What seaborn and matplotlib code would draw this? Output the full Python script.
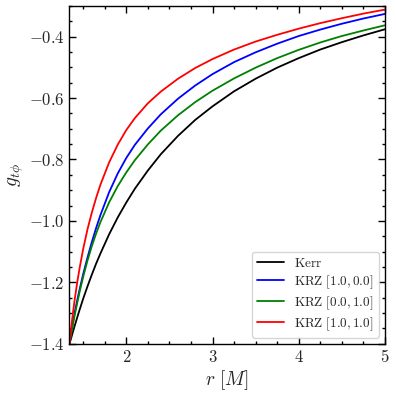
import numpy as np
import pandas as pd
import matplotlib
matplotlib.use('Agg')
import matplotlib.pyplot as plt
import seaborn as sns
from matplotlib.ticker import MultipleLocator, FuncFormatter

# radius grid [M], starts at the horizon
r = [1.341, 1.36, 1.38, 1.40, 1.43, 1.46, 1.50, 1.55, 1.60, 1.65, 1.70, 1.80, 1.90,
     2.00, 2.10, 2.25, 2.40, 2.60, 2.80, 3.00, 3.25, 3.50, 3.75, 4.00, 4.25, 4.50,
     4.75, 5.00]

g_kerr = [-1.400, -1.382, -1.362, -1.343, -1.315, -1.288, -1.253, -1.213, -1.175,
          -1.139, -1.106, -1.044, -0.989, -0.940, -0.895, -0.836, -0.783, -0.723,
          -0.671, -0.627, -0.578, -0.537, -0.501, -0.470, -0.442, -0.418, -0.396,
          -0.376]
g_krz_10 = [-1.400, -1.366, -1.332, -1.300, -1.259, -1.221, -1.173, -1.119, -1.069,
            -1.023, -0.981, -0.907, -0.846, -0.795, -0.752, -0.699, -0.653, -0.602,
            -0.559, -0.522, -0.483, -0.451, -0.423, -0.398, -0.377, -0.358, -0.341,
            -0.326]
g_krz_01 = [-1.400, -1.369, -1.338, -1.309, -1.268, -1.229, -1.182, -1.129, -1.082,
            -1.041, -1.004, -0.940, -0.887, -0.842, -0.802, -0.751, -0.706, -0.656,
            -0.613, -0.576, -0.536, -0.501, -0.470, -0.443, -0.419, -0.398, -0.380,
            -0.363]
g_krz_11 = [-1.400, -1.349, -1.302, -1.259, -1.201, -1.151, -1.091, -1.027, -0.973,
            -0.925, -0.882, -0.810, -0.752, -0.704, -0.665, -0.617, -0.579, -0.537,
            -0.502, -0.473, -0.442, -0.416, -0.394, -0.374, -0.356, -0.340, -0.325,
            -0.312]

labels = [r'$\mathrm{Kerr}$', r'$\mathrm{KRZ}\ [1.0, 0.0]$',
          r'$\mathrm{KRZ}\ [0.0, 1.0]$', r'$\mathrm{KRZ}\ [1.0, 1.0]$']
colors = ['black', 'blue', 'green', 'red']

df = pd.concat([pd.DataFrame({'r': r, 'g': g, 'model': lab})
                for g, lab in zip([g_kerr, g_krz_10, g_krz_01, g_krz_11], labels)])

sns.set_style('ticks')
plt.rcParams['mathtext.fontset'] = 'cm'
plt.rcParams['font.family'] = ['DejaVu Serif']

fig = plt.figure(figsize=(3.96, 3.96), dpi=100)
ax = fig.add_axes([0.1755, 0.132, 0.7965, 0.853])

sns.lineplot(data=df, x='r', y='g', hue='model', palette=dict(zip(labels, colors)),
             linewidth=1.3, ax=ax, sort=False)

ax.set_xlim(1.341, 5)
ax.set_ylim(-1.4, -0.3)
ax.xaxis.set_major_locator(MultipleLocator(1))
ax.xaxis.set_minor_locator(MultipleLocator(0.25))
ax.yaxis.set_major_locator(MultipleLocator(0.2))
ax.yaxis.set_minor_locator(MultipleLocator(0.05))
ax.xaxis.set_major_formatter(FuncFormatter(lambda v, p: r'$%d$' % round(v)))
ax.yaxis.set_major_formatter(FuncFormatter(lambda v, p: r'$%.1f$' % v))
ax.tick_params(which='both', direction='in', top=True, right=True, labelsize=12,
               color='black', width=1.0)
ax.tick_params(which='major', length=5)
ax.tick_params(which='minor', length=2.5)
for s in ax.spines.values():
    s.set_linewidth(1.0)
    s.set_color('black')

ax.set_xlabel(r'$r\ [M]$', fontsize=14, labelpad=2)
ax.set_ylabel(r'$g_{t\phi}$', fontsize=14, labelpad=2)

ax.legend(loc='lower right', fontsize=9.5, title=None, handlelength=2.0,
          borderaxespad=0.45, labelspacing=0.25)

fig.savefig('out.png', dpi=100)
